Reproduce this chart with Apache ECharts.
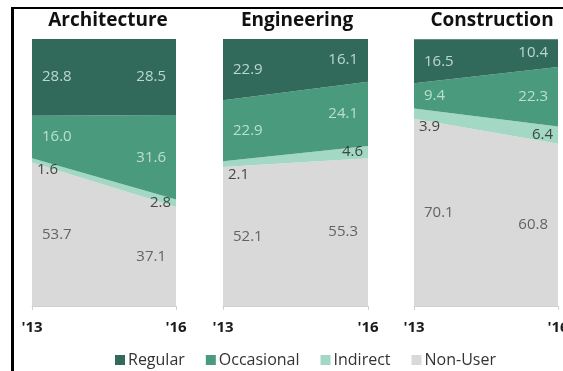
<!DOCTYPE html>
<html>
<head>
<meta charset="utf-8">
<script src="https://cdn.jsdelivr.net/npm/echarts@6/dist/echarts.min.js"></script>
<style>
  html, body { margin: 0; padding: 0; background: #fff; }
  #chart { width: 563px; height: 371px; }
</style>
</head>
<body>
<div id="chart"></div>
<script>
// Share of firms by usage level, 2013 vs 2016, per sector
const years = ["'13", "'16"];
const sectors = ['Architecture', 'Engineering', 'Construction'];
const seriesNames = ['Regular', 'Occasional', 'Indirect', 'Non-User'];

// values per sector: [2013, 2016]
const regular    = [[28.8, 28.5], [22.9, 16.1], [16.5, 10.4]];
const occasional = [[16.0, 31.6], [22.9, 24.1], [9.4, 22.3]];
const indirect   = [[1.6, 2.8],   [2.1, 4.6],   [3.9, 6.4]];
const nonUser    = [[53.7, 37.1], [52.1, 55.3], [70.1, 60.8]];

const colors = {
  'Regular': '#31695a',
  'Occasional': '#4a9a7e',
  'Indirect': '#a3d8c5',
  'Non-User': '#d9d9d9'
};
const labelColors = {
  'Regular': '#dcf2e8',
  'Occasional': '#d4f0e4',
  'Indirect': '#222222',
  'Non-User': '#454545'
};

// bottom-to-top stacking order
const stackOrder = [
  ['Non-User', nonUser],
  ['Indirect', indirect],
  ['Occasional', occasional],
  ['Regular', regular]
];

const gridLefts = [32, 223, 414];
const gridWidths = [144, 145, 144];
const FONT = '"Open Sans", "Noto Sans", sans-serif';

const grids = [], xAxes = [], yAxes = [], series = [];

sectors.forEach((sector, p) => {
  grids.push({ left: gridLefts[p], width: gridWidths[p], top: 39, height: 267,
               outerBoundsMode: 'none', containLabel: false });
  xAxes.push({
    gridIndex: p, type: 'category', data: years, boundaryGap: false,
    axisLine: { show: true, lineStyle: { color: '#d0d0d0', width: 1 } },
    axisTick: { show: true, length: 4, lineStyle: { color: '#d0d0d0' } },
    axisLabel: { interval: 0, margin: 14, color: '#1a1a1a', fontWeight: 'bold',
                 fontSize: 15, fontFamily: FONT },
    splitLine: { show: false }
  });
  yAxes.push({
    gridIndex: p, type: 'value', min: 0, max: 100, show: false,
    splitLine: { show: false }
  });

  const base = [0, 0];
  stackOrder.forEach(([name, arr]) => {
    const vals = arr[p];
    series.push({
      name: name, type: 'line', xAxisIndex: p, yAxisIndex: p,
      stack: 'panel' + p, data: vals, symbol: 'none', smooth: false,
      lineStyle: { width: 0 }, areaStyle: { color: colors[name], opacity: 1 },
      itemStyle: { color: colors[name] }, emphasis: { disabled: true },
      silent: true
    });

    // value labels set inside each band at both ends
    const labelPts = vals.map((v, i) => {
      const thin = name === 'Indirect' && i === 0;
      const y = thin ? base[i] : base[i] + v / 2;
      return {
        value: [i, y, v],
        label: {
          position: i === 0 ? 'right' : 'left',
          distance: name === 'Indirect' ? 5 : 10,
          verticalAlign: thin ? 'top' : 'middle'
        }
      };
    });
    series.push({
      name: name + ' label', type: 'scatter', xAxisIndex: p, yAxisIndex: p,
      symbolSize: 0, data: labelPts, silent: true, z: 5,
      label: {
        show: true, color: labelColors[name], fontSize: 15, fontFamily: FONT,
        formatter: (d) => d.value[2].toFixed(1)
      }
    });
    base[0] += vals[0];
    base[1] += vals[1];
  });
});

const titleCenters = [108, 297, 492];
const graphics = [
  { type: 'rect', shape: { x: 11, y: 7, width: 3, height: 364 }, style: { fill: '#000' } },
  { type: 'rect', shape: { x: 11, y: 7, width: 552, height: 2 }, style: { fill: '#000' } }
];
sectors.forEach((s, p) => {
  graphics.push({
    type: 'text', x: titleCenters[p], y: 21,
    style: { text: s, fill: '#111', font: 'bold 19px ' + FONT,
             textAlign: 'center', textVerticalAlign: 'middle' }
  });
});

const chart = echarts.init(document.getElementById('chart'), null, { renderer: 'canvas' });
chart.setOption({
  animation: false,
  backgroundColor: '#ffffff',
  grid: grids,
  xAxis: xAxes,
  yAxis: yAxes,
  legend: {
    data: seriesNames, top: 347, left: 110, itemWidth: 10, itemHeight: 10,
    icon: 'rect', itemGap: 21, selectedMode: false,
    textStyle: { color: '#333', fontSize: 16, fontFamily: FONT, padding: [0, 0, 0, -2] }
  },
  graphic: graphics,
  series: series
});
</script>
</body>
</html>
